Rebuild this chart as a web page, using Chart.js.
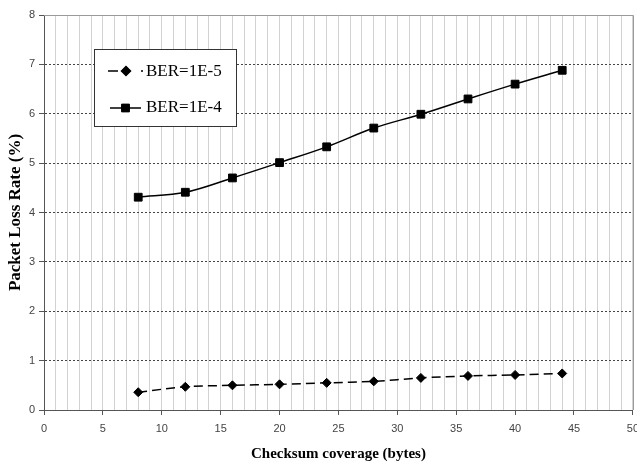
<!DOCTYPE html>
<html>
<head>
<meta charset="utf-8">
<script src="https://cdn.jsdelivr.net/npm/chart.js@4"></script>
<style>
  html, body { margin: 0; padding: 0; background: #fff; overflow: hidden; }
  #wrap { width: 637px; height: 462px; overflow: hidden; }
</style>
</head>
<body>
<div id="wrap"><canvas id="myChart" width="646" height="462"></canvas></div>
<script>
// values
let coverage = [8, 12, 16, 20, 24, 28, 32, 36, 40, 44];
let ber1e5 = [0.36, 0.47, 0.50, 0.52, 0.55, 0.58, 0.65, 0.69, 0.71, 0.74];
let ber1e4 = [4.31, 4.41, 4.70, 5.01, 5.33, 5.71, 5.99, 6.30, 6.60, 6.88];
let seriesNames = ["BER=1E-5", "BER=1E-4"];
let xTitle = "Checksum coverage (bytes)";
let yTitle = "Packet Loss Rate (%)";

let ctx = document.getElementById("myChart");

function toPoints(values) {
  return coverage.map((x, i) => ({ x: x, y: values[i] }));
}

// top/right frame of the plot area
const frame = {
  id: "frame",
  beforeDatasetsDraw(chart) {
    const a = chart.chartArea;
    const c = chart.ctx;
    c.save();
    c.strokeStyle = "#9a9a9a";
    c.lineWidth = 1;
    c.beginPath();
    c.moveTo(Math.round(a.left), Math.round(a.top) + 0.5);
    c.lineTo(Math.round(a.right) + 0.5, Math.round(a.top) + 0.5);
    c.lineTo(Math.round(a.right) + 0.5, Math.round(a.bottom));
    c.stroke();
    c.restore();
  },
};

// boxed legend inside the plot
const boxLegend = {
  id: "boxLegend",
  afterDraw(chart) {
    const c = chart.ctx;
    c.save();
    c.fillStyle = "#fff";
    c.fillRect(94, 49, 142, 77);
    c.strokeStyle = "#333";
    c.lineWidth = 1;
    c.strokeRect(94.5, 49.5, 142, 77);

    c.strokeStyle = "#000";
    c.fillStyle = "#000";
    c.lineWidth = 1.5;

    // BER=1E-5 : dashed line + diamond
    c.setLineDash([10, 23, 2, 100]);
    c.beginPath();
    c.moveTo(108, 71);
    c.lineTo(146, 71);
    c.stroke();
    c.setLineDash([]);
    Chart.helpers.drawPoint(c, { pointStyle: "rectRot", radius: 4.5, borderWidth: 1 }, 126, 71);
    c.fill();

    // BER=1E-4 : solid line + square
    c.beginPath();
    c.moveTo(110, 108);
    c.lineTo(141, 108);
    c.stroke();
    c.lineWidth = 1;
    Chart.helpers.drawPoint(c, { pointStyle: "rect", radius: 5.5, borderWidth: 1 }, 125.5, 108);
    c.fill();

    c.font = "17px 'Liberation Serif'";
    c.textBaseline = "middle";
    c.textAlign = "left";
    c.fillText(seriesNames[0], 146, 72);
    c.fillText(seriesNames[1], 146, 108);
    c.restore();
  },
};

Chart.defaults.font.family = "'Liberation Sans', Arial, sans-serif";

let myChart = new Chart(ctx, {
  type: "line",
  data: {
    datasets: [
      {
        label: seriesNames[0],
        data: toPoints(ber1e5),
        borderColor: "#000",
        backgroundColor: "#000",
        borderWidth: 1.5,
        borderDash: [9, 5],
        tension: 0.3,
        pointStyle: "rectRot",
        pointRadius: 4.5,
        pointBorderWidth: 1,
      },
      {
        label: seriesNames[1],
        data: toPoints(ber1e4),
        borderColor: "#000",
        backgroundColor: "#000",
        borderWidth: 1.5,
        tension: 0.35,
        pointStyle: "rect",
        pointRadius: 5.5,
        pointBorderWidth: 1,
      },
    ],
  },
  options: {
    responsive: false,
    animation: false,
    devicePixelRatio: 1,
    layout: { padding: { top: 15, right: 7, bottom: 0, left: 0 } },
    plugins: {
      legend: { display: false },
      tooltip: { enabled: false },
    },
    scales: {
      x: {
        type: "linear",
        min: 0,
        max: 50,
        afterFit: (s) => { s.height = 52; },
        ticks: {
          stepSize: 1,
          autoSkip: false,
          maxRotation: 0,
          padding: 7,
          color: "#444",
          font: { size: 11 },
          callback: (v) => (v % 5 === 0 ? v : ""),
        },
        grid: {
          color: "#d2d2d2",
          lineWidth: 1,
          tickLength: 5,
          tickColor: (c) => (c.tick && c.tick.value % 5 === 0 ? "#555" : "rgba(0,0,0,0)"),
        },
        border: { color: "#555", width: 1 },
        title: {
          display: true,
          text: xTitle,
          color: "#000",
          font: { family: "'Liberation Serif', serif", size: 15, weight: "bold", lineHeight: 1 },
          padding: { top: 0, bottom: 0 },
        },
      },
      y: {
        min: 0,
        max: 8,
        afterFit: (s) => { s.width = 44; },
        ticks: {
          stepSize: 1,
          padding: 4,
          color: "#444",
          font: { size: 11 },
        },
        grid: {
          color: (c) => (c.tick && c.tick.value === 8 ? "rgba(0,0,0,0)" : "#444"),
          tickColor: "#555",
          tickLength: 5,
        },
        border: { color: "#555", width: 1, dash: [2, 2] },
        title: {
          display: true,
          text: yTitle,
          color: "#000",
          font: { family: "'Liberation Serif', serif", size: 17, weight: "bold", lineHeight: 1 },
          padding: { top: 7.5, bottom: 0 },
        },
      },
    },
  },
  plugins: [frame, boxLegend],
});
</script>
</body>
</html>
